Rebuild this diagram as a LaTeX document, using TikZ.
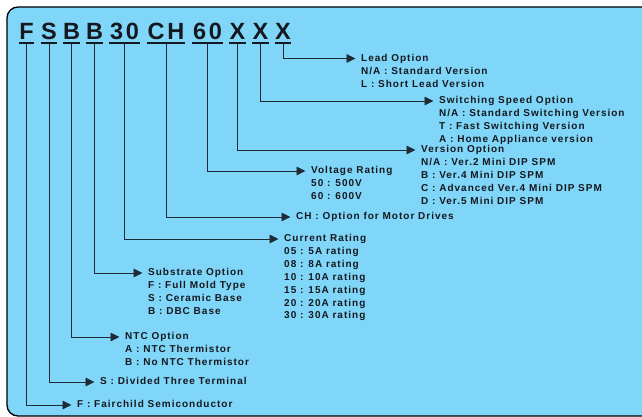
\documentclass[tikz,border=0pt]{standalone}
\usepackage{fontspec}
\setmainfont{Liberation Sans}
\newfontfamily\partfont{Liberation Sans}[LetterSpace=12]
\newfontfamily\descfont{Liberation Sans}[LetterSpace=10]
\usetikzlibrary{positioning, arrows.meta, calc}

\definecolor{panelblue}{HTML}{80D6F8}
\definecolor{inkdark}{HTML}{15181E}
\definecolor{linkdark}{HTML}{1E2A35}

\tikzset{
    part/.style={anchor=south, inner xsep=0pt, inner ysep=3pt, text=inkdark,
        font=\partfont\bfseries\fontsize{23.5}{23.5}\selectfont},
    uline/.style={draw=inkdark, line width=2pt},
    desc/.style={anchor=west, inner sep=0pt, text height=7.2pt, text depth=2pt, text=inkdark,
        font=\descfont\bfseries\fontsize{10}{12.8}\selectfont},
    desclist/.style={inner sep=0pt, align=left, text=inkdark,
        font=\descfont\bfseries\fontsize{10}{12.8}\selectfont},
    link/.style={->, draw=linkdark, line width=0.9pt, shorten >=5.5pt},
}

\begin{document}
\begin{tikzpicture}[x=1pt, y=-1pt, >={Triangle[length=9pt, width=8.5pt]}]

    % --- canvas ---
    \useasboundingbox (0,0) rectangle (642,417);
    \fill[white] (0,0) rectangle (642,417);
    \draw[fill=panelblue, draw=black, line width=1.3pt, rounded corners=11pt]
        (660,7) -- (7,7) -- (7,416) -- (660,416);

    % --- part number letters ---
    \foreach \nm/\txt/\cx/\w in {pf/F/26.5/15, ps/S/49/16, pb/B/71.5/15, pbb/B/94.5/15,
        pcur/30/124.5/31, pch/CH/166/38, pvolt/60/207.5/31,
        pver/X/237.5/15, pspd/X/260.5/15, plead/X/283/16}{
        \node[part, minimum width=\w pt] (\nm) at (\cx,43) {\txt};
        \draw[uline] (\nm.south west) -- (\nm.south east);
    }

    % --- option headings ---
    \node[desc] (leadopt)  at (361,58.5) {Lead Option};
    \node[desc] (speedopt) at (439,101)  {Switching Speed Option};
    \node[desc] (veropt)   at (421,150)  {Version Option};
    \node[desc] (voltopt)  at (311,171)  {Voltage Rating};
    \node[desc] (chopt)    at (296,217)  {CH : Option for Motor Drives};
    \node[desc] (curopt)   at (284,239)  {Current Rating};
    \node[desc] (subopt)   at (148,273)  {Substrate Option};
    \node[desc] (ntcopt)   at (125,337)  {NTC Option};
    \node[desc] (termopt)  at (100,382)  {S : Divided Three Terminal};
    \node[desc] (makeropt) at (77,405)   {F : Fairchild Semiconductor};

    % --- option values ---
    \node[desclist, below=3.6pt of leadopt.south west, anchor=north west] (leadlist)
        {N/A : Standard Version\\L : Short Lead Version};
    \node[desclist, below=3.6pt of speedopt.south west, anchor=north west] (speedlist)
        {N/A : Standard Switching Version\\T : Fast Switching Version\\A : Home Appliance version};
    \node[desclist, below=3.6pt of veropt.south west, anchor=north west] (verlist)
        {N/A : Ver.2 Mini DIP SPM\\B : Ver.4 Mini DIP SPM\\C : Advanced Ver.4 Mini DIP SPM\\D : Ver.5 Mini DIP SPM};
    \node[desclist, below=3.6pt of voltopt.south west, anchor=north west] (voltlist)
        {50 : 500V\\60 : 600V};
    \node[desclist, below=3.6pt of curopt.south west, anchor=north west] (curlist)
        {05 : 5A rating\\08 : 8A rating\\10 : 10A rating\\15 : 15A rating\\20 : 20A rating\\30 : 30A rating};
    \node[desclist, below=3.6pt of subopt.south west, anchor=north west] (sublist)
        {F : Full Mold Type\\S : Ceramic Base\\B : DBC Base};
    \node[desclist, below=3.6pt of ntcopt.south west, anchor=north west] (ntclist)
        {A : NTC Thermistor\\B : No NTC Thermistor};

    % --- connectors ---
    \draw[link] (plead.south) |- (leadopt.west);
    \draw[link] (pspd.south)  |- (speedopt.west);
    \draw[link] (pver.south)  |- (veropt.west);
    \draw[link] (pvolt.south) |- (voltopt.west);
    \draw[link] (pch.south)   |- (chopt.west);
    \draw[link] (pcur.south)  |- (curopt.west);
    \draw[link] (pbb.south)   |- (subopt.west);
    \draw[link] (pb.south)    |- (ntcopt.west);
    \draw[link] (ps.south)    |- (termopt.west);
    \draw[link] (pf.south)    |- (makeropt.west);

\end{tikzpicture}
\end{document}
